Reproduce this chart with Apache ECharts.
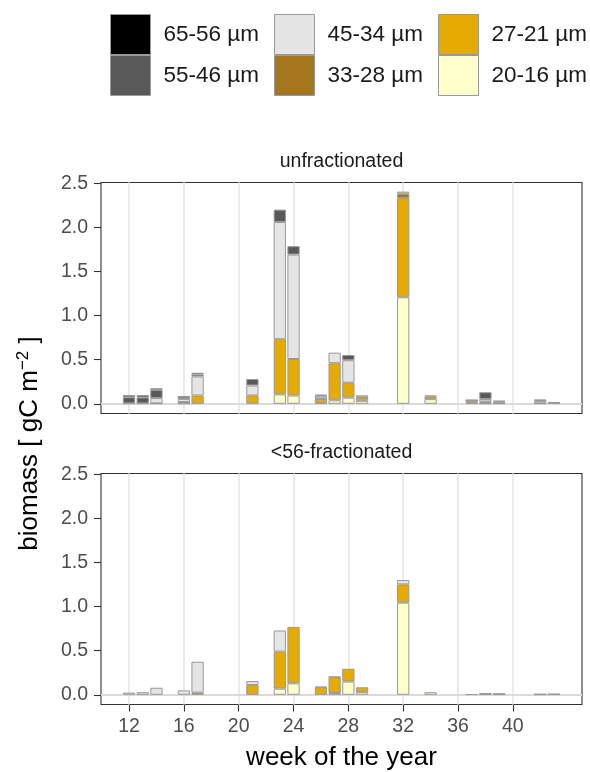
<!DOCTYPE html>
<html>
<head>
<meta charset="utf-8">
<script src="https://cdn.jsdelivr.net/npm/echarts@6/dist/echarts.min.js"></script>
<style>
  html, body { margin: 0; background: #fff; }
  #chart { width: 590px; height: 772px; }
</style>
</head>
<body>
<div id="chart"></div>
<script>
// weeks with samples (same list in both panels)
const weeks = [12, 13, 14, 16, 17, 21, 23, 24, 26, 27, 28, 29, 32, 34, 37, 38, 39, 42, 43];
const gridWeeks = [12, 16, 20, 24, 28, 32, 36, 40];
const biomassTicks = [0, 0.5, 1, 1.5, 2, 2.5];

// size classes, bottom of stack first
const sizeClasses = ['20-16 µm', '27-21 µm', '33-28 µm', '45-34 µm', '55-46 µm', '65-56 µm'];
const classColors = ['#FFFFCC', '#E6AB02', '#A6761D', '#E5E5E5', '#595959', '#000000'];
const panelTitles = ['unfractionated', '<56-fractionated'];

// unfractionated  [gC m-2]
const unfrac2016 = [0, 0, 0.005, 0.005, 0, 0, 0.107, 0.094, 0.01, 0.04, 0.07, 0.034, 1.208, 0.053, 0.01, 0.005, 0, 0, 0];
const unfrac2721 = [0, 0, 0, 0.01, 0.094, 0.094, 0.625, 0.414, 0.045, 0.42, 0.17, 0.034, 1.125, 0.03, 0.025, 0.01, 0, 0.005, 0];
const unfrac3328 = [0, 0, 0, 0.005, 0, 0, 0, 0, 0.005, 0, 0, 0.005, 0.05, 0.011, 0.005, 0.01, 0.005, 0, 0];
const unfrac4534 = [0.005, 0.005, 0.06, 0.035, 0.216, 0.114, 1.33, 1.185, 0.03, 0.12, 0.254, 0.023, 0.023, 0, 0, 0.03, 0.02, 0.025, 0.01];
const unfrac5546 = [0.07, 0.068, 0.091, 0.026, 0.023, 0.073, 0.14, 0.095, 0.015, 0, 0.06, 0, 0, 0, 0.003, 0.076, 0.01, 0.02, 0.01];
const unfrac6556 = [0.025, 0.025, 0.02, 0.003, 0.019, 0, 0, 0, 0, 0, 0, 0, 0, 0, 0, 0, 0, 0, 0];

// <56 fractionated
const frac2016 = [0, 0, 0, 0, 0, 0, 0.07, 0.13, 0, 0.02, 0.15, 0.03, 1.045, 0.03, 0, 0, 0, 0, 0];
const frac2721 = [0, 0, 0, 0, 0, 0.11, 0.42, 0.64, 0.085, 0.18, 0.145, 0.055, 0.207, 0, 0, 0, 0, 0, 0];
const frac3328 = [0, 0, 0, 0, 0.025, 0, 0, 0, 0.005, 0.005, 0, 0, 0, 0, 0, 0, 0, 0, 0];
const frac4534 = [0.025, 0.03, 0.08, 0.05, 0.35, 0.046, 0.24, 0, 0, 0, 0, 0, 0.05, 0, 0, 0.012, 0.008, 0.005, 0.006];
const frac5546 = [0, 0, 0, 0, 0, 0, 0, 0, 0, 0, 0, 0, 0, 0, 0.006, 0.003, 0.003, 0.002, 0.002];
const frac6556 = [0, 0, 0, 0, 0, 0, 0, 0, 0, 0, 0, 0, 0, 0, 0, 0, 0, 0, 0];

const panels = [
  [unfrac2016, unfrac2721, unfrac3328, unfrac4534, unfrac5546, unfrac6556],
  [frac2016, frac2721, frac3328, frac4534, frac5546, frac6556]
];

const font = 'Liberation Sans, Arial, sans-serif';
const tickColor = '#4D4D4D';
const gridTops = [182.5, 473.5];
const plotLeft = 101;
const plotRight = 8;
const plotHeight = 231;

const grids = gridTops.map(top => ({
  left: plotLeft, right: plotRight, top: top, height: plotHeight,
  show: true, backgroundColor: 'transparent', borderColor: '#333333', borderWidth: 1.1
}));

const xAxes = gridTops.map((_, i) => ({
  type: 'value',
  gridIndex: i,
  min: 9.955,
  max: 45.045,
  axisLine: {show: false, onZero: false},
  splitLine: {show: false},
  axisTick: {
    show: i === 1,
    customValues: gridWeeks,
    length: 7,
    lineStyle: {color: '#333333', width: 1.1}
  },
  axisLabel: {
    show: i === 1,
    customValues: gridWeeks,
    color: tickColor,
    fontSize: 19.5,
    fontFamily: font,
    margin: 12
  },
  name: i === 1 ? 'week of the year' : '',
  nameLocation: 'middle',
  nameGap: 40,
  nameTextStyle: {color: '#000000', fontSize: 26, fontFamily: font}
}));

const yAxes = gridTops.map((_, i) => ({
  type: 'value',
  gridIndex: i,
  min: -0.11,
  max: 2.51,
  axisLine: {show: false, onZero: false},
  splitLine: {show: false},
  axisTick: {
    show: true,
    customValues: biomassTicks,
    length: 7,
    lineStyle: {color: '#333333', width: 1.1}
  },
  axisLabel: {
    customValues: biomassTicks,
    formatter: v => v.toFixed(1),
    color: tickColor,
    fontSize: 19.5,
    fontFamily: font,
    margin: 13
  }
}));

// value first so that stacking works on the biomass dimension
const series = [];
panels.forEach((classes, p) => {
  classes.forEach((values, c) => {
    const s = {
      type: 'bar',
      name: sizeClasses[c],
      xAxisIndex: p,
      yAxisIndex: p,
      stack: 'panel' + p,
      barWidth: 12.3,
      encode: {x: 1, y: 0},
      itemStyle: {color: classColors[c], borderColor: '#999999', borderWidth: 1},
      data: weeks.map((w, k) => [values[k] > 0 ? values[k] : '-', w])
    };
    if (c === 0) {
      s.markLine = {
        silent: true,
        z: 1,
        symbol: 'none',
        label: {show: false},
        lineStyle: {color: '#EBEBEB', width: 2, type: 'solid'},
        data: gridWeeks.map(w => ({xAxis: w})).concat([{yAxis: 0, lineStyle: {color: '#DADADA', width: 2, type: 'solid'}}])
      };
    }
    series.push(s);
  });
});

const legendColumns = [
  ['65-56 µm', '55-46 µm'],
  ['45-34 µm', '33-28 µm'],
  ['27-21 µm', '20-16 µm']
];
const legendLefts = [110, 274, 438];
const legends = legendColumns.map((names, i) => ({
  data: names,
  orient: 'vertical',
  left: legendLefts[i],
  top: 14,
  padding: 0,
  itemGap: 0,
  itemWidth: 40,
  itemHeight: 40,
  icon: 'rect',
  selectedMode: false,
  itemStyle: {borderColor: '#999999', borderWidth: 1},
  textStyle: {fontSize: 22.5, color: '#1A1A1A', fontFamily: font, padding: [0, 0, 0, 8]}
}));

const panelCenterX = plotLeft + (590 - plotLeft - plotRight) / 2;
const graphics = panelTitles.map((t, i) => ({
  type: 'text',
  x: panelCenterX,
  y: gridTops[i] - 21,
  style: {
    text: t, align: 'center', verticalAlign: 'middle',
    fontSize: 19.5, fill: '#1A1A1A', fontFamily: font
  }
}));
graphics.push({
  type: 'text',
  x: 30,
  y: (gridTops[0] + gridTops[1] + plotHeight) / 2,
  rotation: Math.PI / 2,
  style: {
    text: 'biomass [ gC m{sup|−2} ]',
    align: 'center', verticalAlign: 'middle',
    fontSize: 26, lineHeight: 30, fill: '#000000',
    fontFamily: font,
    rich: {
      sup: {fontSize: 17, verticalAlign: 'top', lineHeight: 30, padding: [0, 0, 12, 0], fill: '#000000', fontFamily: font}
    }
  }
});

const chart = echarts.init(document.getElementById('chart'), null, {renderer: 'canvas'});
chart.setOption({
  animation: false,
  backgroundColor: '#ffffff',
  legend: legends,
  grid: grids,
  xAxis: xAxes,
  yAxis: yAxes,
  series: series,
  graphic: graphics
});
</script>
</body>
</html>
